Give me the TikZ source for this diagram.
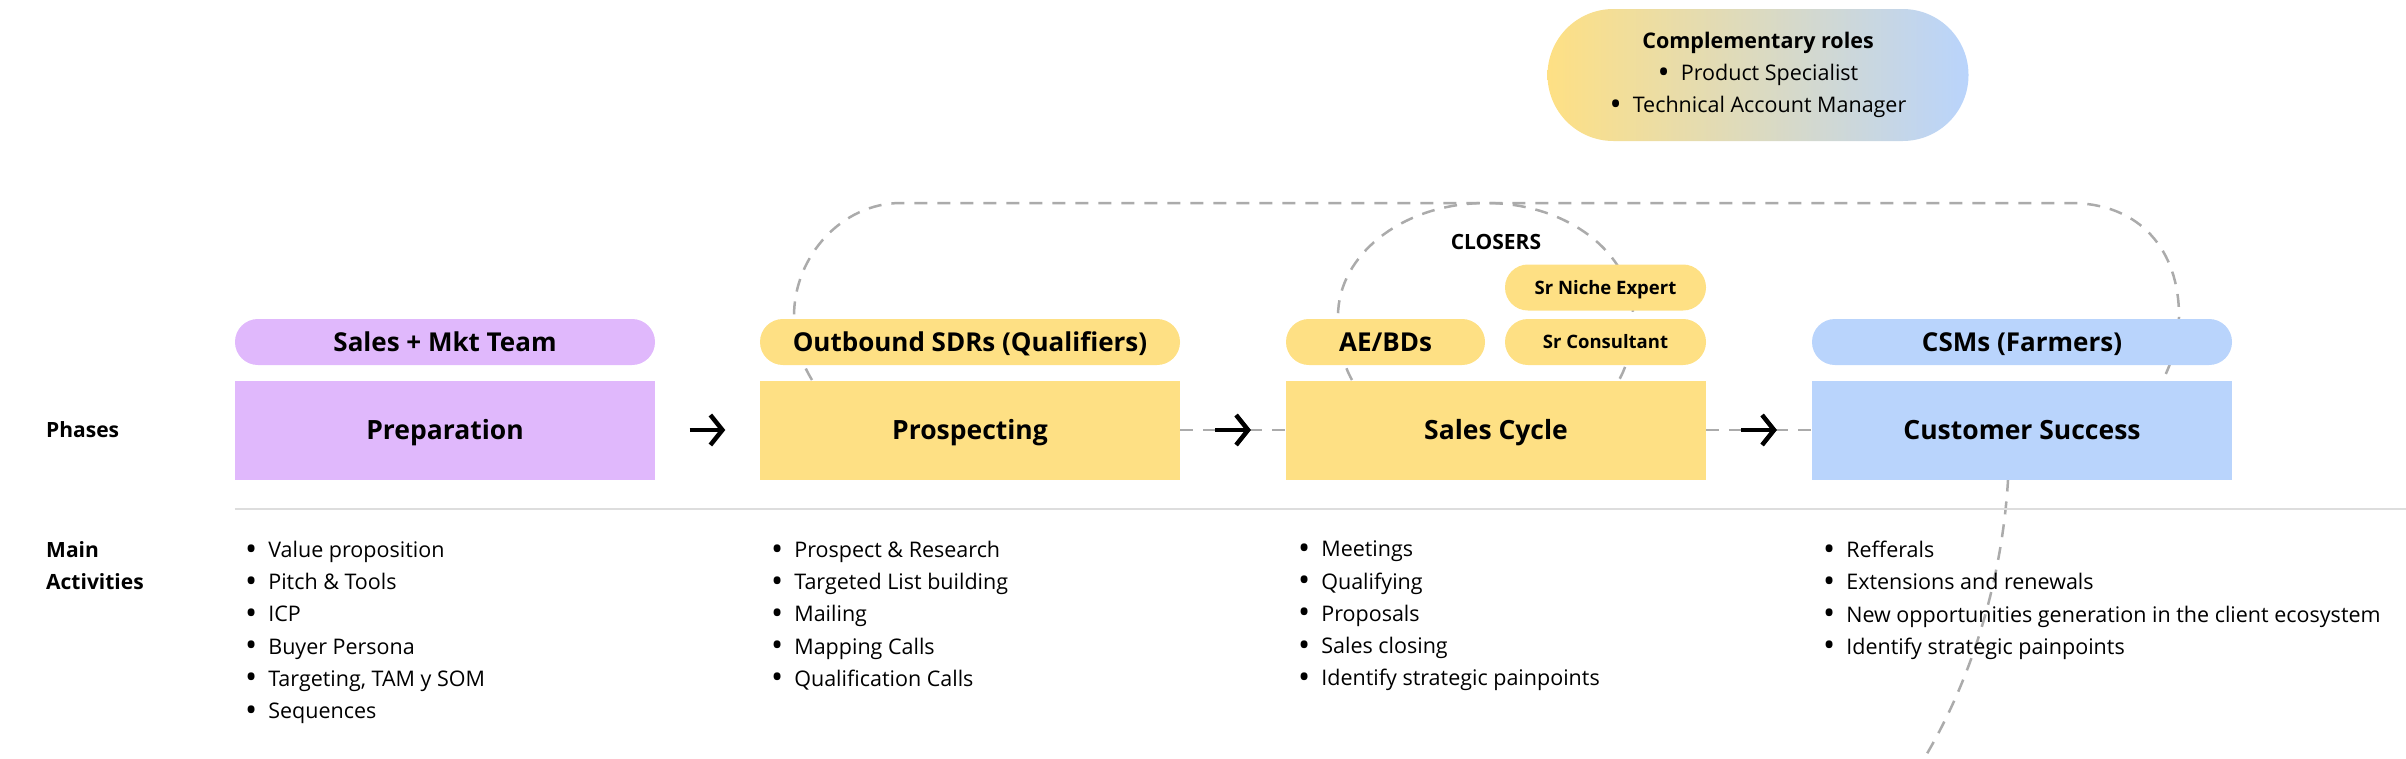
\documentclass[tikz,border=0pt]{standalone}
\usepackage{fontspec}
\usepackage{graphicx}
\setmainfont{Open Sans}
\usetikzlibrary{arrows.meta,calc}
\definecolor{prepfill}{HTML}{E0B8FC}
\definecolor{salesfill}{HTML}{FEE084}
\definecolor{csfill}{HTML}{B9D4FC}
\definecolor{loopgray}{HTML}{ABABAB}
\definecolor{rulegray}{HTML}{DDDDDD}
\newcommand\itm{\raisebox{-0.12em}{\scalebox{1.5}{\textbullet}}\hspace{11pt}}
\begin{document}
\begin{tikzpicture}[x=1pt,y=-1pt,
  phase/.style={
    rectangle, inner sep=0pt,
    minimum width=420pt,
    minimum height=99pt,
    text height=18.9pt, text depth=0pt,
    fill=#1,
    font=\bfseries\fontsize{26.5}{30}\selectfont
  },
  team/.style={
    rounded corners=22.9pt, inner sep=0pt,
    minimum width=420pt,
    minimum height=46pt,
    text height=18.6pt, text depth=0pt,
    fill=#1,
    font=\bfseries\fontsize{26}{30}\selectfont
  },
  role/.style={team=salesfill, minimum width=201pt, text height=13.2pt,
    font=\bfseries\fontsize{18.5}{22}\selectfont},
  tag/.style={font=\bfseries\fontsize{21}{24}\selectfont},
  rowlabel/.style={inner sep=0pt, align=left,
    font=\bfseries\fontsize{21}{32.2}\selectfont},
  actlist/.style={inner sep=0pt, align=left, anchor=north west,
    font=\fontsize{21.5}{32.2}\selectfont},
  comp/.style={
    rounded corners=65.9pt, inner sep=0pt,
    minimum width=421pt, minimum height=132pt,
    left color=salesfill, right color=csfill,
    align=center, font=\fontsize{21.5}{32}\selectfont
  },
  loop/.style={loopgray, line width=2.5pt, dash pattern=on 13pt off 10pt},
  link/.style={loopgray, line width=2.5pt, dash pattern=on 13pt off 10pt},
  flow/.style={-{Straight Barb[length=12pt,width=30pt]}, line width=4.5pt, black}
]
  \useasboundingbox (0,0) rectangle (2406,758);
  % dashed loops, drawn first so the boxes hide them
  \draw[loop] (812,380) .. controls (803,365) and (794,345) .. (794,316)
    .. controls (794,256) and (842,203) .. (901,203)
    -- (2070,203)
    .. controls (2140,203) and (2179,250) .. (2179,316)
    .. controls (2179,345) and (2170,365) .. (2163,380)
    .. controls (2120,430) and (2012,440) .. (2008,480)
    .. controls (2002,580) and (1972,680) .. (1922,762);
  \draw[loop] (1352,380) .. controls (1344,366) and (1338,345) .. (1338,316)
    .. controls (1338,254) and (1404,203) .. (1486,203)
    .. controls (1568,203) and (1633,254) .. (1633,316)
    .. controls (1633,345) and (1627,366) .. (1619,380);

  % top gradient pill
  \node[comp] (comp) at (1758,75)
        {\textbf{Complementary roles}\\ \itm Product Specialist\\ \itm Technical Account Manager};

  % phases
  \node[phase=prepfill]  (prep)  at (445,430)  {Preparation};
  \node[phase=salesfill] (pros)  at (970,430)  {Prospecting};
  \node[phase=salesfill] (sales) at (1496,430) {Sales Cycle};
  \node[phase=csfill]    (cs)    at (2022,430) {Customer Success};

  % teams
  \node[team=prepfill]  (prepteam) at (445,342)  {Sales + Mkt Team};
  \node[team=salesfill] (sdrs)     at (970,342)  {Outbound SDRs (Qualifiers)};
  \node[team=salesfill, minimum width=199pt] (aebd) at (1385.5,342) {AE/BDs};
  \node[role] (consult) at (1605.5,342)   {Sr Consultant};
  \node[role] (niche)   at (1605.5,287.5) {Sr Niche Expert};
  \node[team=csfill]    (csms)     at (2022,342) {CSMs (Farmers)};
  \node[tag] (closers) at (1496,242) {CLOSERS};

  % flow between phases
  \draw[link] (pros) -- (sales);
  \draw[link] (sales) -- (cs);
  \draw[flow] ($(prep.east)!.33!(pros.west)$)   -- ($(prep.east)!.67!(pros.west)$);
  \draw[flow] ($(pros.east)!.33!(sales.west)$)  -- ($(pros.east)!.67!(sales.west)$);
  \draw[flow] ($(sales.east)!.33!(cs.west)$)    -- ($(sales.east)!.67!(cs.west)$);

  % row labels
  \node[rowlabel, anchor=west] (phases) at (46,430) {Phases};
  \draw[rulegray, line width=2pt] ([yshift=-29pt]prep.south west) -- ++(2171,0);
  \node[rowlabel, anchor=north west] (mainact) at (46,541) {Main\\Activities};

  % activities
  \node[actlist] (prepact) at (245,541)
        {\itm Value proposition\\ \itm Pitch \& Tools\\ \itm ICP\\ \itm Buyer Persona\\
         \itm Targeting, TAM y SOM\\ \itm Sequences};
  \node[actlist] (prosact) at (771,541)
        {\itm Prospect \& Research\\ \itm Targeted List building\\ \itm Mailing\\
         \itm Mapping Calls\\ \itm Qualification Calls};
  \node[actlist] (salesact) at (1298,541)
        {\itm Meetings\\ \itm Qualifying\\ \itm Proposals\\ \itm Sales closing\\
         \itm Identify strategic painpoints};
  \node[actlist] (csact) at (1823,541)
        {\itm Refferals\\ \itm Extensions and renewals\\
         \itm New opportunities generation in the client ecosystem\\
         \itm Identify strategic painpoints};
\end{tikzpicture}
\end{document}
